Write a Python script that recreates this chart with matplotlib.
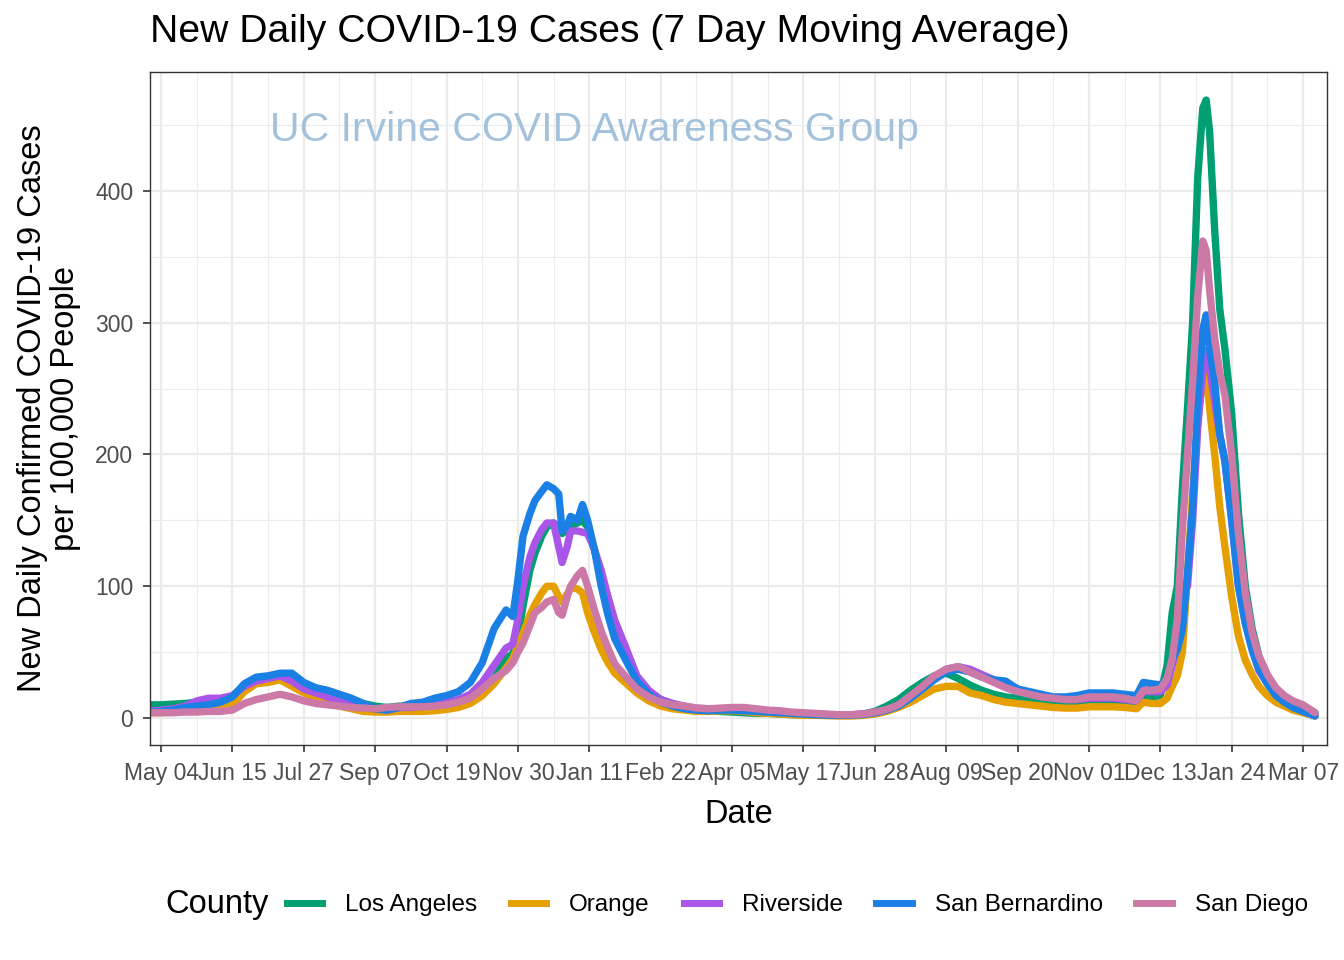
import matplotlib
matplotlib.use("Agg")
import matplotlib.pyplot as plt
import matplotlib.dates as mdates
from matplotlib.lines import Line2D
import pandas as pd

plt.rcParams['font.family'] = ['Liberation Sans', 'DejaVu Sans']

# 7 day moving average of new cases per 100k
dates = [
    "2020-04-27", "2020-05-04", "2020-05-11", "2020-05-18", "2020-05-25", "2020-06-01",
    "2020-06-08", "2020-06-15", "2020-06-22", "2020-06-29", "2020-07-06", "2020-07-13",
    "2020-07-20", "2020-07-27", "2020-08-03", "2020-08-10", "2020-08-17", "2020-08-24",
    "2020-08-31", "2020-09-07", "2020-09-14", "2020-09-21", "2020-09-28", "2020-10-05",
    "2020-10-12", "2020-10-19", "2020-10-26", "2020-11-02", "2020-11-09", "2020-11-16",
    "2020-11-23", "2020-11-27", "2020-11-30", "2020-12-03", "2020-12-07", "2020-12-10",
    "2020-12-14", "2020-12-17", "2020-12-21", "2020-12-24", "2020-12-26", "2020-12-29",
    "2020-12-31", "2021-01-04", "2021-01-07", "2021-01-10", "2021-01-14", "2021-01-18",
    "2021-01-22", "2021-01-26", "2021-02-01", "2021-02-08", "2021-02-15", "2021-02-22",
    "2021-03-01", "2021-03-08", "2021-03-15", "2021-03-22", "2021-03-29", "2021-04-05",
    "2021-04-12", "2021-04-19", "2021-04-26", "2021-05-03", "2021-05-10", "2021-05-17",
    "2021-05-24", "2021-05-31", "2021-06-07", "2021-06-14", "2021-06-21", "2021-06-28",
    "2021-07-05", "2021-07-12", "2021-07-19", "2021-07-26", "2021-08-02", "2021-08-09",
    "2021-08-16", "2021-08-23", "2021-08-30", "2021-09-06", "2021-09-13", "2021-09-20",
    "2021-09-27", "2021-10-04", "2021-10-11", "2021-10-18", "2021-10-25", "2021-11-01",
    "2021-11-08", "2021-11-15", "2021-11-22", "2021-11-29", "2021-12-03", "2021-12-08",
    "2021-12-13", "2021-12-17", "2021-12-20", "2021-12-23", "2021-12-26", "2021-12-29",
    "2022-01-01", "2022-01-04", "2022-01-07", "2022-01-09", "2022-01-11", "2022-01-14",
    "2022-01-17", "2022-01-20", "2022-01-24", "2022-01-28", "2022-02-01", "2022-02-05",
    "2022-02-09", "2022-02-14", "2022-02-19", "2022-02-24", "2022-03-01", "2022-03-07",
    "2022-03-14",
]

los_angeles = [
    10, 10, 10.5, 11, 12, 13, 14, 16, 22, 27, 30, 31,
    29, 24, 21, 19, 16, 13, 11, 9, 8, 9, 9, 9.5,
    10, 11, 13, 15, 20, 30, 45, 49, 62, 85, 112, 125,
    138, 145, 148, 145, 140, 143, 146, 148, 150, 145, 128, 105,
    85, 66, 48, 30, 20, 14, 11, 8, 6.5, 5.5, 5, 4.5,
    4, 3.5, 3.5, 3, 2.5, 2.5, 2.2, 2, 2, 2.2, 3, 5,
    9, 14, 21, 27, 32, 34, 30, 25, 21, 18, 16, 15,
    13, 12, 11, 10.5, 10.5, 11, 11, 11, 11, 11, 16, 16,
    17, 40, 80, 100, 175, 235, 300, 410, 463, 469, 445, 370,
    310, 280, 231, 155, 100, 68, 47, 32, 22, 16, 12, 9,
    4,
]
orange = [
    4, 4, 4.5, 5, 6, 6, 7, 10, 20, 26, 27, 29,
    24, 19, 15, 12, 9, 7, 5, 4.5, 4.5, 5, 5, 5,
    5.5, 6.5, 8, 11, 17, 26, 38, 45, 55, 64, 78, 86,
    95, 100, 100, 92, 88, 94, 99, 98, 95, 80, 65, 52,
    42, 34, 27, 19, 13, 9, 7, 6, 5, 5, 5.5, 5.5,
    5, 4, 3.5, 3, 2.5, 2, 2, 1.8, 1.5, 1.5, 2, 3,
    5, 8, 12, 17, 22, 24, 24, 19, 17, 14, 12, 11,
    10, 9, 8, 7.5, 7.5, 8.5, 8.5, 8.5, 8, 7, 12, 11,
    11, 15, 24, 32, 50, 110, 170, 225, 258, 264, 235, 200,
    160, 130, 92, 62, 44, 33, 24, 17, 12, 9, 6, 4,
    1.5,
]
riverside = [
    5, 6, 7, 9, 13, 15, 15, 17, 24, 28, 30, 32,
    28, 22, 19, 16, 13, 11, 9, 7, 6, 8, 8, 9,
    10, 12, 14, 18, 27, 40, 53, 56, 75, 100, 122, 133,
    143, 148, 148, 130, 118, 130, 142, 142, 141, 140, 128, 112,
    92, 74, 55, 32, 21, 14, 11, 9, 7.5, 7, 7, 7,
    6.5, 6, 5, 4.5, 4, 3.5, 3, 2.5, 2.5, 2.5, 3, 4,
    6, 10, 16, 23, 31, 37, 39, 37, 33, 29, 25, 22,
    19, 17, 15, 14, 14, 15, 15, 15, 14, 13, 20, 20,
    20, 25, 40, 55, 95, 100, 150, 220, 265, 279, 265, 240,
    215, 195, 150, 100, 72, 52, 36, 26, 18, 13, 9, 6,
    2,
]
san_bernardino = [
    4, 5, 6, 8, 9, 10, 12, 16, 26, 31, 32, 34,
    34, 27, 23, 21, 18, 15, 11, 7, 6, 8, 11, 12,
    15, 17, 20, 27, 42, 68, 82, 77, 105, 138, 155, 165,
    172, 177, 174, 170, 142, 146, 153, 150, 162, 150, 128, 100,
    78, 60, 45, 28, 18, 12, 9, 7, 6, 5.5, 6, 6,
    5.5, 5, 4.5, 4, 3.5, 3, 2.5, 2.2, 2, 2.2, 2.5, 4,
    6, 9, 15, 22, 29, 35, 37, 35, 31, 29, 28, 22,
    20, 18, 16, 16, 17, 19, 19, 19, 18, 17, 27, 26,
    25, 30, 44, 52, 67, 110, 160, 240, 295, 306, 280, 255,
    215, 195, 150, 100, 72, 52, 37, 26, 17, 12, 8, 5,
    1.5,
]
san_diego = [
    4, 4, 4, 4.5, 4.5, 5, 5, 6, 11, 14, 16, 18,
    16, 13, 11, 10, 9, 8, 7.5, 7, 8, 8.5, 8.5, 8.5,
    9, 10, 12, 15, 22, 30, 36, 42, 50, 57, 70, 80,
    84, 88, 90, 80, 78, 92, 100, 108, 112, 100, 82, 66,
    53, 41, 32, 22, 16, 12, 10, 9, 7.5, 7, 7.5, 8,
    8, 7, 6, 5.5, 4.5, 4, 3.5, 3, 2.5, 2.5, 3, 4.5,
    6.5, 10, 17, 24, 32, 37, 39, 35, 31, 27, 23, 20,
    18, 16, 15, 14, 14, 16, 16, 16, 15, 13, 21, 21,
    22, 30, 45, 75, 143, 200, 255, 320, 362, 355, 325, 288,
    262, 245, 200, 140, 95, 65, 47, 33, 23, 17, 13, 10,
    4,
]

counties = ["Los Angeles", "Orange", "Riverside", "San Bernardino", "San Diego"]
colors = ["#009E73", "#E69F00", "#A955E8", "#1B80E5", "#CC79A7"]
series = [los_angeles, orange, riverside, san_bernardino, san_diego]

x = pd.to_datetime(dates)

fig = plt.figure(figsize=(13.44, 9.6), dpi=100)
ax = fig.add_axes([150 / 1344, 1 - 745 / 960, 1177 / 1344, 673 / 960])

for vals, col in zip(series, colors):
    ax.plot(x, vals, color=col, lw=5.3, solid_capstyle='round', solid_joinstyle='round')

# ticks first, limits afterwards (set_xticks would widen the view)
major = pd.date_range("2020-05-04", periods=17, freq="42D")
minor = pd.date_range("2020-04-13", periods=18, freq="42D")
ax.set_xticks(major)
ax.set_xticks(minor, minor=True)
ax.xaxis.set_major_formatter(mdates.DateFormatter("%b %d"))
ax.set_yticks([0, 100, 200, 300, 400])
ax.set_yticks([50, 150, 250, 350, 450], minor=True)
ax.set_xlim(pd.Timestamp("2020-04-27 12:00"), pd.Timestamp("2022-03-21 02:00"))
ax.set_ylim(-20.5, 490.3)

ax.grid(which='major', color='#EBEBEB', lw=1.6)
ax.grid(which='minor', color='#EBEBEB', lw=0.8)
ax.set_axisbelow(True)
ax.tick_params(which='major', length=5, width=1.2, color='#333333',
               labelsize=16.5, labelcolor='#4D4D4D', pad=7)
ax.tick_params(which='minor', length=0)
for s in ax.spines.values():
    s.set_color('#333333')
    s.set_linewidth(1.0)

ax.set_xlabel("Date", fontsize=23.5, labelpad=10)
ax.set_ylabel("New Daily Confirmed COVID-19 Cases\nper 100,000 People",
              fontsize=23.5, labelpad=10, linespacing=1.1)

fig.text(150 / 1344, 1 - 32 / 960, "New Daily COVID-19 Cases (7 Day Moving Average)",
         fontsize=28.2, ha='left', va='center')

ax.text(0.378, 0.914, "UC Irvine COVID Awareness Group", transform=ax.transAxes,
        fontsize=29.5, color='#A3C1DA', ha='center', va='center')

# legend at the bottom
fig.text(165 / 1344, 1 - 905 / 960, "County", fontsize=23.5, ha='left', va='center')
handles = [Line2D([0], [0], color=c, lw=5) for c in colors]
fig.legend(handles, counties, ncol=5, loc='center left',
           bbox_to_anchor=(287 / 1344, 1 - 905 / 960), frameon=False,
           fontsize=17.5, handlelength=1.45, handletextpad=0.95,
           columnspacing=1.38, borderaxespad=0, borderpad=0)

fig.savefig("out.png", dpi=100)
